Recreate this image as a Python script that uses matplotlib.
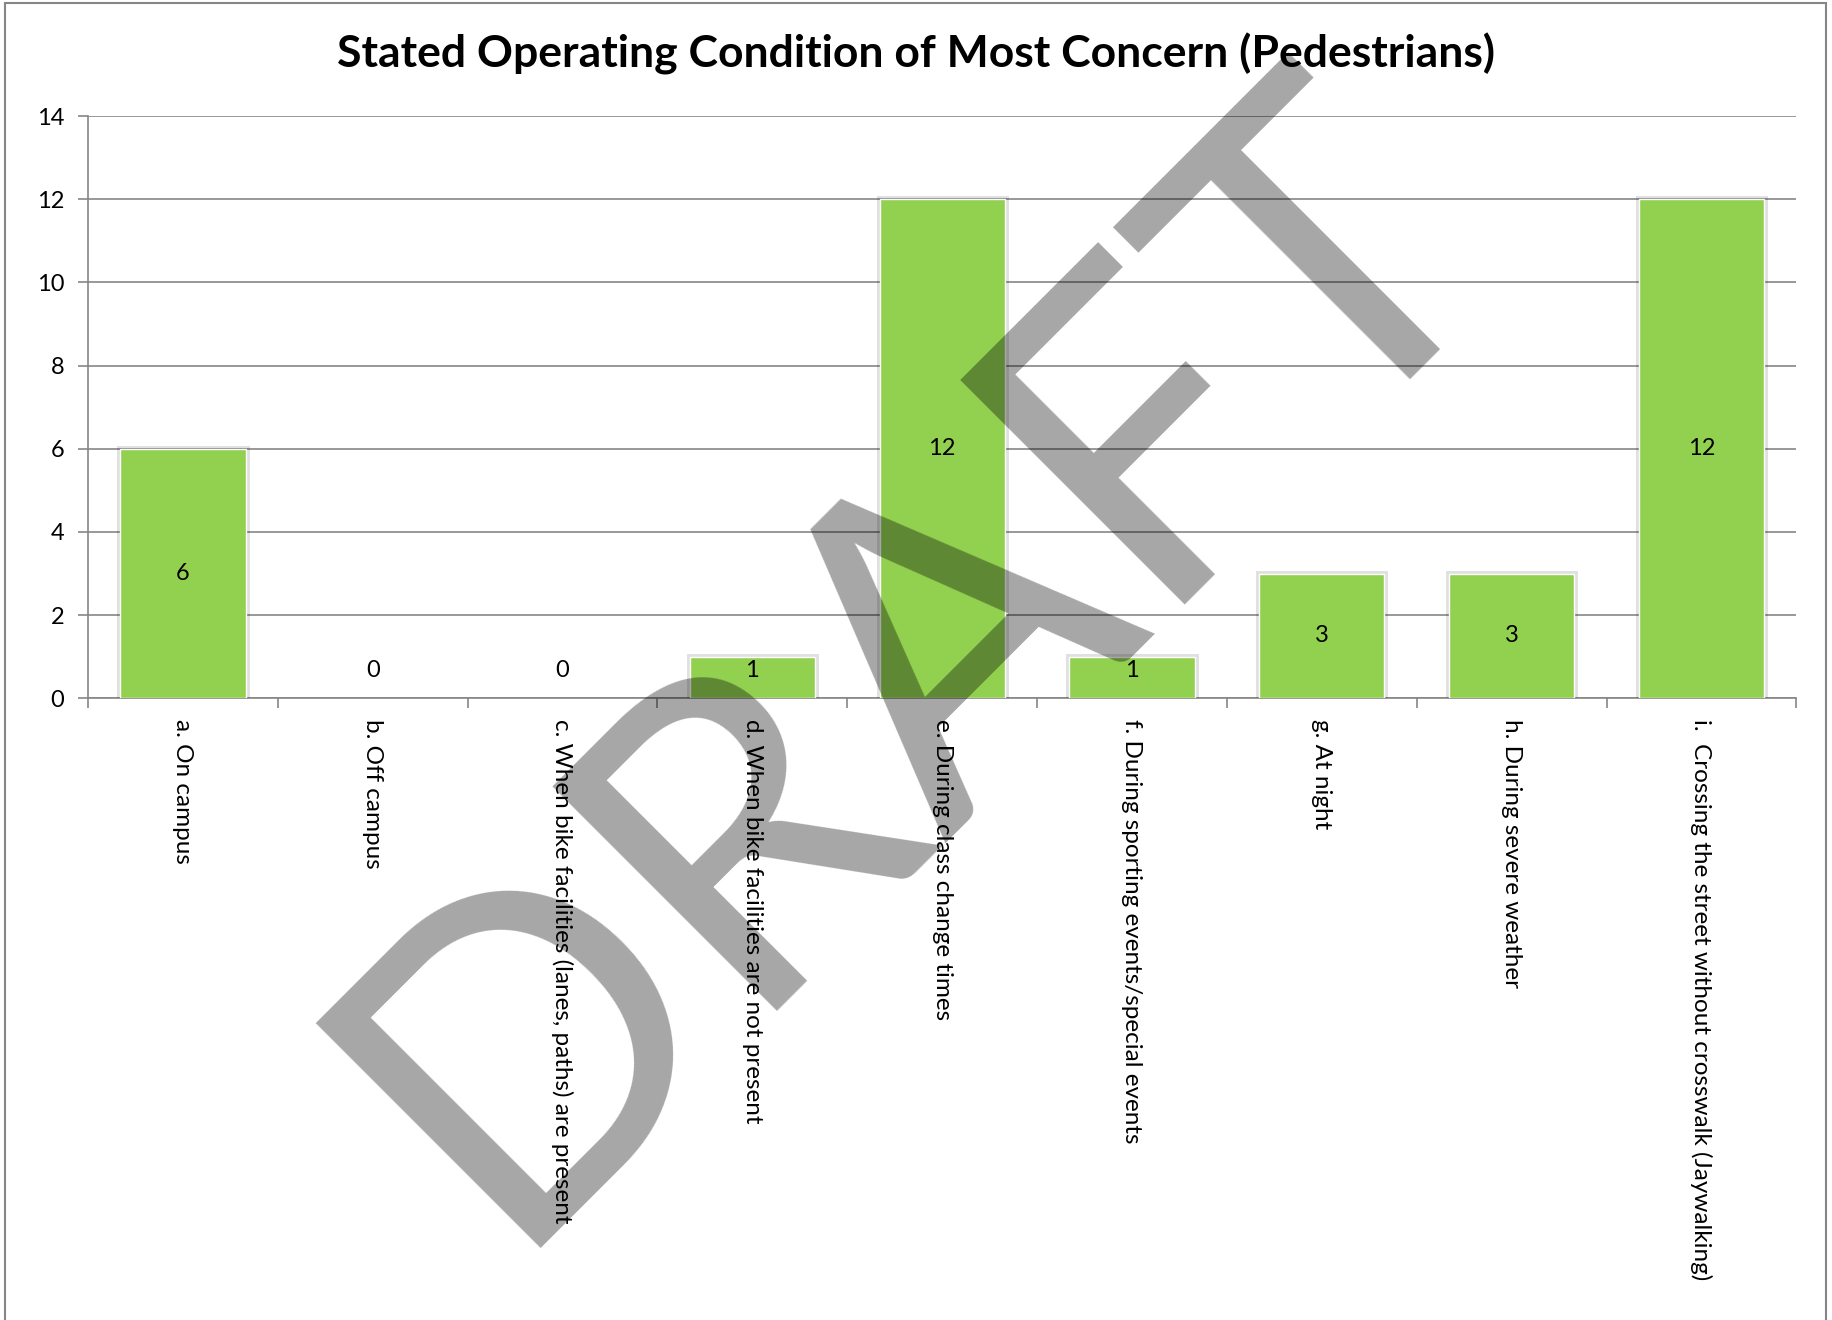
import matplotlib
matplotlib.use("Agg")
import matplotlib.pyplot as plt
import matplotlib.patheffects as pe
from matplotlib.patches import Rectangle
import numpy as np

categories = [
    "a. On campus",
    "b. Off campus",
    "c. When bike facilities (lanes, paths) are present",
    "d. When bike facilities are not present",
    "e. During class change times",
    "f. During sporting events/special events",
    "g. At night",
    "h. During severe weather",
    "i.  Crossing the street without crosswalk (Jaywalking)",
]
counts = [6, 0, 0, 1, 12, 1, 3, 3, 12]
y_ticks = [0, 2, 4, 6, 8, 10, 12, 14]

title = "Stated Operating Condition of Most Concern (Pedestrians)"
bar_color = "#92D050"
grid_color = "#868686"

plt.rcParams["font.family"] = ["Lato", "DejaVu Sans"]

fig = plt.figure(figsize=(18.33, 13.2), dpi=100)
ax = fig.add_axes([0.048, 0.471, 0.932, 0.441])

x = np.arange(len(categories))
bars = ax.bar(x, counts, width=0.66, color=bar_color, edgecolor="white",
              linewidth=1, zorder=3)
for b, v in zip(bars, counts):
    if v > 0:
        b.set_path_effects([pe.Stroke(linewidth=5, foreground="#000000", alpha=0.12),
                            pe.Normal()])
    else:
        b.set_linewidth(0)

# data labels in the middle of each bar
for xi, v in zip(x, counts):
    ax.text(xi, max(v / 2, 0.66), str(v), ha="center", va="center",
            fontsize=17, zorder=4)

ax.set_xlim(-0.5, len(categories) - 0.5)
ax.set_ylim(0, 14)
ax.set_yticks(y_ticks)
ax.yaxis.grid(True, color=grid_color, linewidth=1.2, zorder=0)
ax.set_axisbelow(True)

ax.set_xticks(x)
ax.set_xticklabels(categories, rotation=-90, ha="center", va="top", fontsize=17.5)
ax.set_xticks(np.arange(-0.5, len(categories)), minor=True)
ax.tick_params(axis="x", which="major", length=0, pad=15)
ax.tick_params(axis="x", which="minor", length=7, width=1.2, color=grid_color)
ax.tick_params(axis="y", length=7, width=1.2, color=grid_color, pad=10,
               labelsize=17)

for side in ["top", "right"]:
    ax.spines[side].set_visible(False)
for side in ["left", "bottom"]:
    ax.spines[side].set_color(grid_color)
    ax.spines[side].set_linewidth(1.2)

fig.text(0.5, 0.959, title, ha="center", va="center", fontsize=32,
         fontweight="bold")

# outer chart border
fig.add_artist(Rectangle((5 / 1833, -0.01), 1821 / 1833, 1.01 - 3 / 1320,
                         transform=fig.transFigure, fill=False,
                         edgecolor=grid_color, linewidth=1.5))

# DRAFT watermark
fig.text(0.547, 0.4355, "DRAFT", rotation=45, rotation_mode="anchor",
         ha="center", va="baseline", fontsize=318, color="black", alpha=0.35,
         zorder=10)

fig.savefig("out.png", dpi=100)
